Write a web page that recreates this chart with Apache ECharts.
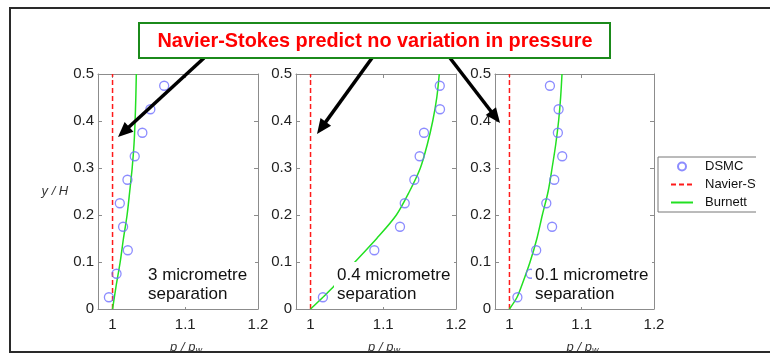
<!DOCTYPE html>
<html>
<head>
<meta charset="utf-8">
<script src="https://cdn.jsdelivr.net/npm/echarts@6/dist/echarts.min.js"></script>
<style>html,body{margin:0;padding:0;background:#fff;}#c{width:770px;height:354px;}</style>
</head>
<body>
<div id="c"></div>
<script>
// ---- data ----
var dsmcY = [0.025, 0.075, 0.125, 0.175, 0.225, 0.275, 0.325, 0.375, 0.425, 0.475];
var dsmc3um = [0.995, 1.0055, 1.021, 1.0145, 1.010, 1.0205, 1.0305, 1.041, 1.052, 1.071];
var dsmc04um = [1.017, null, 1.0877, 1.123, 1.1295, 1.1427, 1.150, 1.156, 1.178, 1.1777];
var dsmc01um = [1.011, 1.0295, 1.037, 1.059, 1.051, 1.062, 1.073, 1.067, 1.068, 1.056];
var burnettY = [0, 0.025, 0.05, 0.1, 0.15, 0.2, 0.25, 0.3, 0.35, 0.4, 0.45, 0.5];
var burnett3um = [1, 1.0025, 1.005, 1.0105, 1.015, 1.020, 1.0236, 1.027, 1.0295, 1.031, 1.032, 1.0327];
var burnett04um = [1, 1.017, 1.033, 1.061, 1.091, 1.118, 1.136, 1.151, 1.1605, 1.168, 1.1736, 1.177];
var burnett01um = [1, 1.0105, 1.017, 1.0285, 1.038, 1.0455, 1.0535, 1.059, 1.064, 1.068, 1.0708, 1.0727];
var navierY = [0, 0.5];
var navierX = [1, 1];
var xTicks = [1, 1.1, 1.2];
var yTicks = [0, 0.1, 0.2, 0.3, 0.4, 0.5];
var panelLabels = ['3 micrometre\nseparation', '0.4 micrometre\nseparation', '0.1 micrometre\nseparation'];
var titleText = 'Navier-Stokes predict no variation in pressure';
var seriesNames = ['DSMC', 'Navier-Stokes', 'Burnett'];

function pairs(xs, ys) {
  var out = [];
  for (var i = 0; i < xs.length; i++) { if (xs[i] != null) out.push([xs[i], ys[i]]); }
  return out;
}

var chart = echarts.init(document.getElementById('c'), null, {renderer: 'canvas'});

var panels = [
  {left: 98, width: 160, dsmc: dsmc3um, burnett: burnett3um},
  {left: 296, width: 160, dsmc: dsmc04um, burnett: burnett04um},
  {left: 495, width: 159, dsmc: dsmc01um, burnett: burnett01um}
];
var frameColor = '#8c8c8c';
var labelFont = {fontFamily: 'Liberation Sans, Arial, sans-serif', fontSize: 15, color: '#222'};

var grids = [], xAxes = [], yAxes = [], series = [];
panels.forEach(function (p, i) {
  grids.push({left: p.left, top: 74, width: p.width, height: 235, containLabel: false, outerBoundsMode: 'none'});
  xAxes.push({
    type: 'value', gridIndex: i, position: 'bottom', min: 0.98, max: 1.2,
    axisLine: {show: true, onZero: false, lineStyle: {color: frameColor, width: 1}},
    axisTick: {show: true, inside: true, length: 4, customValues: xTicks, lineStyle: {color: frameColor}},
    axisLabel: Object.assign({show: true, margin: 8, customValues: xTicks,
      formatter: function (v) { return (Math.round(v * 10) / 10).toString(); }}, labelFont),
    splitLine: {show: false},
    name: '{a|p / p}{b|w}', nameLocation: 'middle', nameGap: 31,
    nameTextStyle: {padding: [0, 0, 0, 16], rich: {
      a: {fontFamily: 'Liberation Sans, Arial, sans-serif', fontStyle: 'italic', fontSize: 13, color: '#333'},
      b: {fontFamily: 'Liberation Sans, Arial, sans-serif', fontStyle: 'italic', fontSize: 9, color: '#333', padding: [6, 0, 0, 0]}
    }}
  });
  xAxes.push({
    type: 'value', gridIndex: i, position: 'top', min: 0.98, max: 1.2,
    axisLine: {show: true, onZero: false, lineStyle: {color: frameColor, width: 1}},
    axisTick: {show: true, inside: true, length: 4, customValues: xTicks, lineStyle: {color: frameColor}},
    axisLabel: {show: false}, splitLine: {show: false}
  });
  yAxes.push({
    type: 'value', gridIndex: i, position: 'left', min: 0, max: 0.5, interval: 0.1,
    axisLine: {show: true, onZero: false, lineStyle: {color: frameColor, width: 1}},
    axisTick: {show: true, inside: true, length: 4, lineStyle: {color: frameColor}},
    axisLabel: Object.assign({show: true, margin: 4,
      formatter: function (v) { return v === 0 ? '0' : v.toFixed(1); }}, labelFont),
    splitLine: {show: false},
    name: i === 0 ? 'y / H' : '', nameLocation: 'middle', nameRotate: 0, nameGap: 28,
    nameTextStyle: {fontFamily: 'Liberation Sans, Arial, sans-serif', fontStyle: 'italic', fontSize: 13, color: '#333'}
  });
  yAxes.push({
    type: 'value', gridIndex: i, position: 'right', min: 0, max: 0.5, interval: 0.1,
    axisLine: {show: true, onZero: false, lineStyle: {color: frameColor, width: 1}},
    axisTick: {show: true, inside: true, length: 4, lineStyle: {color: frameColor}},
    axisLabel: {show: false}, splitLine: {show: false}
  });
  var xi = i * 2, yi = i * 2;
  series.push({
    name: seriesNames[0], type: 'scatter', xAxisIndex: xi, yAxisIndex: yi,
    data: pairs(p.dsmc, dsmcY), symbol: 'circle', symbolSize: 9,
    itemStyle: {color: 'rgba(255,255,255,0)', borderColor: '#6f6fff', borderWidth: 1.3}, z: 3
  });
  series.push({
    name: seriesNames[1], type: 'line', xAxisIndex: xi, yAxisIndex: yi,
    data: pairs(navierX, navierY), symbol: 'none',
    lineStyle: {color: '#ff1a1a', width: 1.5, type: [5, 3]}, itemStyle: {color: '#ff1a1a'}, z: 2
  });
  series.push({
    name: seriesNames[2], type: 'line', xAxisIndex: xi, yAxisIndex: yi,
    data: pairs(p.burnett, burnettY), symbol: 'none', smooth: 0.3,
    lineStyle: {color: '#22e022', width: 1.5}, itemStyle: {color: '#22e022'}, z: 2
  });
});

function arrow(x1, y1, x2, y2) {
  var dx = x2 - x1, dy = y2 - y1, L = Math.sqrt(dx * dx + dy * dy);
  var ux = dx / L, uy = dy / L, hl = 15, hw = 6.5;
  var bx = x2 - ux * hl, by = y2 - uy * hl;
  return [
    {type: 'line', z: 120, shape: {x1: x1, y1: y1, x2: x2 - ux * 6, y2: y2 - uy * 6}, style: {stroke: '#000', lineWidth: 3.5}},
    {type: 'polygon', z: 121, shape: {points: [[x2, y2], [bx - uy * hw, by + ux * hw], [bx + uy * hw, by - ux * hw]]}, style: {fill: '#000'}}
  ];
}

var titleFont = 'bold 21px "Liberation Sans", Arial, sans-serif';
var mctx = document.createElement('canvas').getContext('2d');
mctx.font = titleFont;
var titleScale = 435 / mctx.measureText(titleText).width;

var graphics = [];
graphics.push({type: 'rect', z: 130, shape: {x: 10, y: 8, width: 775, height: 344}, style: {fill: 'none', stroke: '#2a2a2a', lineWidth: 2}});
graphics.push({type: 'rect', z: 129, shape: {x: 0, y: 353, width: 770, height: 2}, style: {fill: '#fff'}});
// the reference legend is cut off at its right side
graphics.push({type: 'rect', z: 128, shape: {x: 756, y: 150, width: 14, height: 70}, style: {fill: '#fff'}});
var boxes = [{x: 144, tx: 148, w: 111}, {x: 334, tx: 337, w: 120}, {x: 532, tx: 535, w: 120}];
boxes.forEach(function (b, i) {
  graphics.push({type: 'rect', z: 100, shape: {x: b.x, y: 262, width: b.w, height: 45}, style: {fill: '#fff'}});
  graphics.push({type: 'text', z: 101, x: b.tx, y: 266, style: {text: panelLabels[i], fill: '#111',
    font: '17px "Liberation Sans", Arial, sans-serif', lineHeight: 19, textAlign: 'left', textVerticalAlign: 'top'}});
});
graphics = graphics.concat(arrow(204, 58, 118, 137), arrow(372, 58, 317, 134), arrow(450, 58, 500, 123));
graphics.push({type: 'rect', z: 125, shape: {x: 139, y: 23, width: 471, height: 35}, style: {fill: '#fff', stroke: '#1b8a1b', lineWidth: 2}});
graphics.push({type: 'text', z: 126, x: 375, y: 41, scaleX: titleScale, style: {text: titleText, fill: '#ff0000',
  font: titleFont, textAlign: 'center', textVerticalAlign: 'middle'}});

chart.setOption({
  animation: false,
  backgroundColor: '#fff',
  grid: grids, xAxis: xAxes, yAxis: yAxes, series: series,
  legend: {
    data: [
      {name: seriesNames[0]},
      {name: seriesNames[1], itemStyle: {opacity: 0}},
      {name: seriesNames[2], itemStyle: {opacity: 0}}
    ],
    orient: 'vertical', left: 658, top: 157,
    padding: [3, 80, 3, 12], itemGap: 5, itemWidth: 22, itemHeight: 8,
    borderColor: '#777', borderWidth: 1, backgroundColor: '#fff',
    textStyle: {fontFamily: 'Liberation Sans, Arial, sans-serif', fontSize: 13, color: '#111', padding: [0, 0, 0, 7]}
  },
  graphic: graphics
});
</script>
</body>
</html>
